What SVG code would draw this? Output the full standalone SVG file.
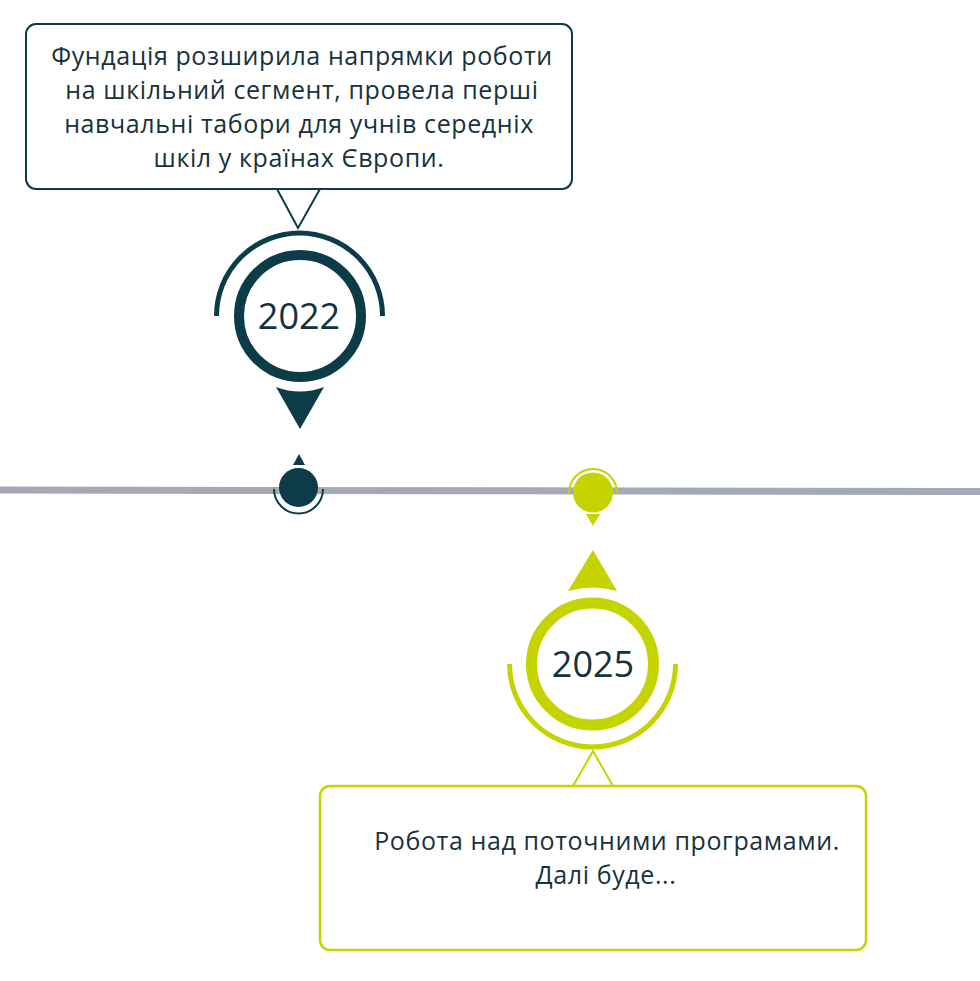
<svg xmlns="http://www.w3.org/2000/svg" width="980" height="981" viewBox="0 0 980 981">
<style>
.txt{font-family:"Open Sans","Noto Sans","Liberation Sans",sans-serif;fill:#17323b;text-anchor:middle}
.body{font-size:25px;letter-spacing:0.6px}
.year{font-size:36px}
.dk{stroke:#0c3c47}
.gr{stroke:#c5d300}
</style>
<rect width="980" height="981" fill="#ffffff"/>
<g id="connectors">
<path d="M0 490 L980 491.5" stroke="#a5a8b6" stroke-width="7" fill="none"/>
</g>
<g id="box2022">
<rect x="26" y="24" width="546" height="165" rx="10" fill="#fff" stroke="#0c3c47" stroke-width="2"/>
<path d="M277 189 L298 228 L320 189" fill="none" class="dk" stroke-width="2"/>
<text class="txt body" x="302" y="65">Фундація розширила напрямки роботи</text>
<text class="txt body" x="302" y="99">на шкільний сегмент, провела перші</text>
<text class="txt body" x="299" y="133">навчальні табори для учнів середніх</text>
<text class="txt body" x="299" y="167">шкіл у країнах Європи.</text>
</g>
<g id="marker2022">
<path d="M216.5 316 A83 83 0 0 1 382.5 316" fill="none" class="dk" stroke-width="5"/>
<circle cx="300" cy="316" r="61" fill="#fff" class="dk" stroke-width="10"/>
<text class="txt year" x="299" y="329">2022</text>
<path d="M276 387 Q300 396 324 387 L300 429 Z" fill="#0c3c47"/>
</g>
<g id="dot2022">
<circle cx="298.5" cy="487.5" r="19.5" fill="#0c3c47"/>
<path d="M293 465 L299 454 L305 465 Z" fill="#0c3c47"/>
<path d="M274 489 A24.5 24.5 0 0 0 323 489" fill="none" class="dk" stroke-width="2"/>
</g>
<g id="dot2025">
<circle cx="593" cy="492.5" r="20" fill="#c5d300"/>
<path d="M569 493 A24 24 0 0 1 617 493" fill="none" class="gr" stroke-width="2"/>
<path d="M586 514 L600 514 L593 526 Z" fill="#c5d300"/>
</g>
<g id="marker2025">
<path d="M568 591 L593 550 L617 591 Q593 584 568 591 Z" fill="#c5d300"/>
<circle cx="592.5" cy="664" r="61" fill="#fff" class="gr" stroke-width="11"/>
<path d="M509.5 664 A83 83 0 0 0 675.5 664" fill="none" class="gr" stroke-width="5"/>
<text class="txt year" x="593" y="677">2025</text>
</g>
<g id="box2025">
<rect x="320" y="786" width="546" height="164" rx="10" fill="#fff" stroke="#c5d300" stroke-width="2.5"/>
<path d="M573 786 L593 751 L613 786" fill="none" class="gr" stroke-width="2"/>
<text class="txt body" x="607" y="850">Робота над поточними програмами.</text>
<text class="txt body" x="606" y="884">Далі буде...</text>
</g>
</svg>
